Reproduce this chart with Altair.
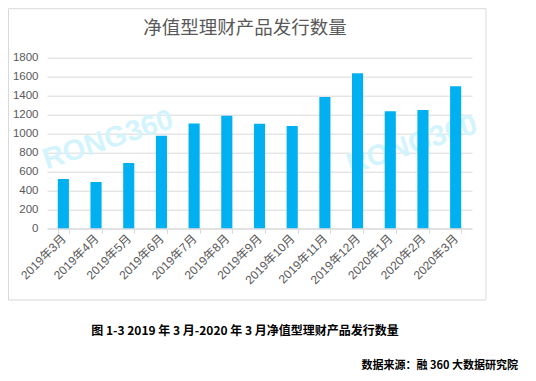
import altair as alt
import pandas as pd

months = ["2019年3月", "2019年4月", "2019年5月", "2019年6月", "2019年7月", "2019年8月",
          "2019年9月", "2019年10月", "2019年11月", "2019年12月", "2020年1月", "2020年2月", "2020年3月"]
counts = [520, 488, 689, 977, 1105, 1188, 1103, 1080, 1385, 1635, 1234, 1248, 1498]
y_ticks = [0, 200, 400, 600, 800, 1000, 1200, 1400, 1600, 1800]
title_text = ["净值型理财产品发行数量"]
caption_text = ["图 1-3 2019 年 3 月-2020 年 3 月净值型理财产品发行数量"]
source_text = ["数据来源：融 360 大数据研究院"]
watermark_text = ["RONG360"]

df = pd.DataFrame({"month": months, "count": counts})

W, H = 425, 170.6
LABEL_FONT = "Liberation Sans, Noto Sans CJK SC"
CJK_FONT = "Noto Sans CJK SC"

frame = alt.Chart(pd.DataFrame({"a": [0]})).mark_rect(
    filled=False, stroke="#D9D9D9", strokeWidth=1
).encode(x=alt.value(-38.5), x2=alt.value(439), y=alt.value(-49), y2=alt.value(242.3))

wm = pd.DataFrame({"t": watermark_text})
wm1 = alt.Chart(wm).mark_text(
    font="Liberation Sans", fontSize=29, fontWeight="bold", color="#D4F4FD", angle=342,
    align="center", baseline="middle"
).encode(text="t:N", x=alt.value(61), y=alt.value(82))
wm2 = alt.Chart(wm).mark_text(
    font="Liberation Sans", fontSize=29, fontWeight="bold", color="#D4F4FD", angle=342,
    align="center", baseline="middle"
).encode(text="t:N", x=alt.value(365), y=alt.value(87))

bars = alt.Chart(df).mark_bar(color="#00B0F0").encode(
    x=alt.X("month:N", sort=months,
            scale=alt.Scale(paddingInner=0.66, paddingOuter=0.33),
            axis=alt.Axis(title=None, labelAngle=315, labelAlign="right", labelBaseline="middle",
                          labelFont=LABEL_FONT, labelFontSize=12, labelColor="#595959",
                          labelPadding=3, domainColor="#D9D9D9", tickColor="#D9D9D9",
                          tickSize=5, tickBand="extent", grid=False)),
    y=alt.Y("count:Q", scale=alt.Scale(domain=[0, 1800]),
            axis=alt.Axis(title=None, values=y_ticks, format="d", domain=False, ticks=False,
                          gridColor="#D9D9D9", labelFont=LABEL_FONT, labelFontSize=11.5,
                          labelColor="#595959", labelPadding=9)),
)

title = alt.Chart(pd.DataFrame({"t": title_text})).mark_text(
    font=CJK_FONT, fontSize=18.5, color="#595959", align="center", baseline="middle"
).encode(text="t:N", x=alt.value(198), y=alt.value(-29.5))

caption = alt.Chart(pd.DataFrame({"t": caption_text})).mark_text(
    font=CJK_FONT, fontSize=12, fontWeight="bold", color="#000000", align="center", baseline="middle"
).encode(text="t:N", x=alt.value(198), y=alt.value(273))

source = alt.Chart(pd.DataFrame({"t": source_text})).mark_text(
    font=CJK_FONT, fontSize=11, fontWeight="bold", color="#000000", align="right", baseline="middle"
).encode(text="t:N", x=alt.value(471), y=alt.value(308.5))

chart = alt.layer(frame, wm1, wm2, bars, title, caption, source).properties(
    width=W, height=H, autosize="none",
    padding={"left": 39, "top": 49.7, "right": 56, "bottom": 144.7},
    background="#FFFFFF",
).configure_view(strokeWidth=0)

chart.save("out.html", embed_options={"renderer": "svg", "actions": False})
